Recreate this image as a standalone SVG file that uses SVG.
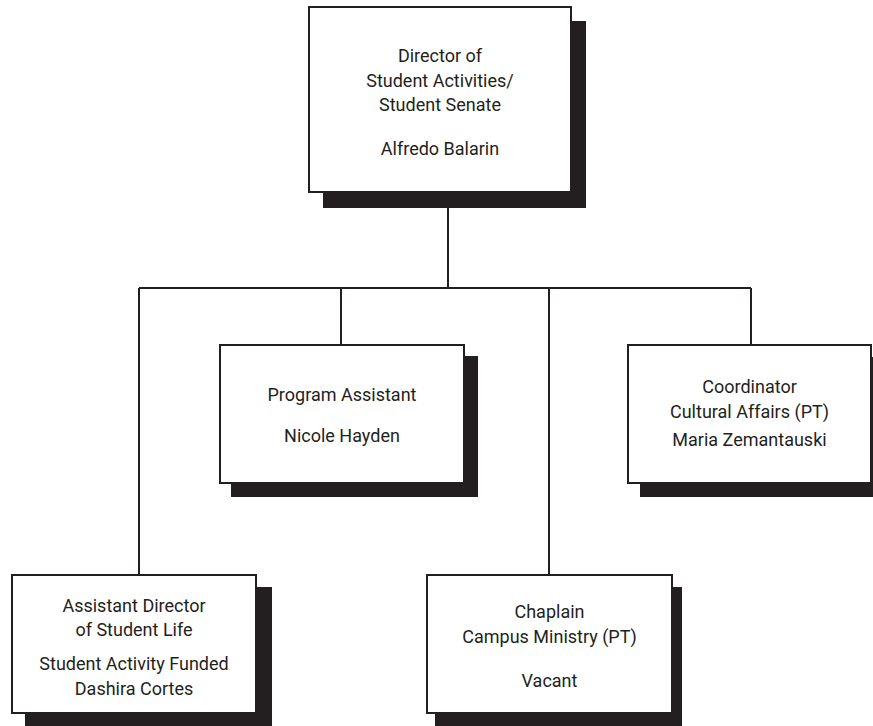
<svg xmlns="http://www.w3.org/2000/svg" width="873" height="726" viewBox="0 0 873 726">
<style>
.shadow{fill:#231f20}
.box{fill:#fff;stroke:#231f20;stroke-width:2}
.conn{stroke:#231f20;stroke-width:2;fill:none}
text{font-family:Roboto,"Liberation Sans",sans-serif;font-size:18px;fill:#231f20;text-anchor:middle}
</style>
<rect width="873" height="726" fill="#fff"/>
<g id="connectors">
<path class="conn" d="M448,208 V288 M139,288 H751 M139,288 V575 M341,288 V345 M549,288 V575 M751,288 V345"/>
</g>
<g id="director">
<rect class="shadow" x="323" y="21" width="263" height="187"/>
<rect class="box" x="309" y="7" width="262" height="185"/>
<text x="440" y="62">Director of</text>
<text x="440" y="87">Student Activities/</text>
<text x="440" y="111">Student Senate</text>
<text x="440" y="155">Alfredo Balarin</text>
</g>
<g id="program">
<rect class="shadow" x="231" y="356" width="247" height="141"/>
<rect class="box" x="220" y="345" width="244" height="138"/>
<text x="342" y="401">Program Assistant</text>
<text x="342" y="442">Nicole Hayden</text>
</g>
<g id="coordinator">
<rect class="shadow" x="640" y="357" width="245" height="140"/>
<rect class="box" x="628" y="345" width="243" height="138"/>
<text x="749.5" y="393">Coordinator</text>
<text x="749.5" y="418">Cultural Affairs (PT)</text>
<text x="749.5" y="446">Maria Zemantauski</text>
</g>
<g id="assistant-director">
<rect class="shadow" x="25" y="587" width="247" height="145"/>
<rect class="box" x="12" y="575" width="244" height="138"/>
<text x="134" y="612">Assistant Director</text>
<text x="134" y="636">of Student Life</text>
<text x="134" y="670">Student Activity Funded</text>
<text x="134" y="695">Dashira Cortes</text>
</g>
<g id="chaplain">
<rect class="shadow" x="435" y="587" width="247" height="145"/>
<rect class="box" x="427" y="575" width="245" height="138"/>
<text x="549.5" y="618">Chaplain</text>
<text x="549.5" y="643">Campus Ministry (PT)</text>
<text x="549.5" y="687">Vacant</text>
</g>
</svg>
